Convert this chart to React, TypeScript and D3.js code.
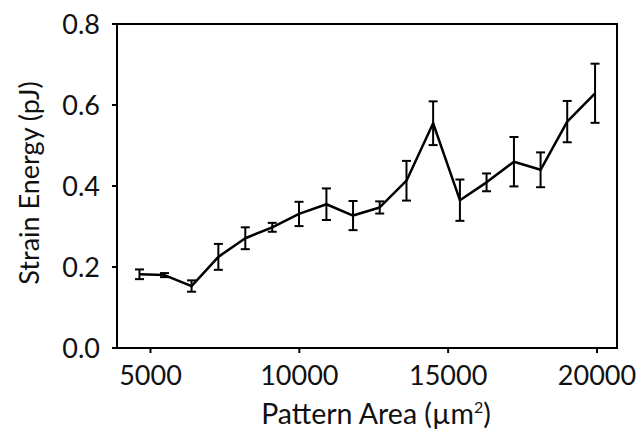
import React from "react";
import * as d3 from "d3";

const areas = [4630, 5470, 6380, 7280, 8185, 9090, 9990, 10910, 11805, 12700, 13600, 14495, 15395, 16290, 17210, 18105, 19000, 19935];
const energy = [0.182, 0.180, 0.153, 0.225, 0.271, 0.298, 0.331, 0.355, 0.327, 0.347, 0.413, 0.555, 0.365, 0.409, 0.460, 0.440, 0.559, 0.629];
const errors = [0.012, 0.005, 0.014, 0.032, 0.027, 0.011, 0.030, 0.039, 0.036, 0.015, 0.049, 0.054, 0.051, 0.022, 0.061, 0.043, 0.051, 0.073];
const xTicks = [5000, 10000, 15000, 20000];
const yTicks = [0, 0.2, 0.4, 0.6, 0.8];

const W = 640, H = 434;
const L = 117, R = 617, T = 24, B = 348;
const FONT = "Lato, 'Open Sans', sans-serif";

export default function App() {
  const x = d3.scaleLinear().domain([3875, 20672]).range([L, R]);
  const y = d3.scaleLinear().domain([0, 0.8]).range([B, T]);
  const pts = areas.map((a, i) => [a, energy[i]] as [number, number]);
  const line = d3.line<[number, number]>().x(d => x(d[0])).y(d => y(d[1]))(pts) || "";
  const cap = 4.5;
  return (
    <svg width={W} height={H} style={{ position: "absolute", left: 0, top: 0, background: "#fff" }}>
      <rect x={0} y={0} width={W} height={H} fill="#fff" />
      {xTicks.map(t => (
        <g key={"x" + t}>
          <line x1={x(t)} x2={x(t)} y1={B} y2={B + 5} stroke="#000" strokeWidth={2} />
          <text x={x(t)} y={385} textAnchor="middle" fontFamily={FONT} fontSize={27} fill="#111">{t}</text>
        </g>
      ))}
      {yTicks.map(t => (
        <g key={"y" + t}>
          <line x1={L - 5} x2={L} y1={y(t)} y2={y(t)} stroke="#000" strokeWidth={2} />
          <text x={100} y={y(t) + 10} textAnchor="end" fontFamily={FONT} fontSize={27} fill="#111">{t.toFixed(1)}</text>
        </g>
      ))}
      <path d={line} fill="none" stroke="#000" strokeWidth={2.5} strokeLinejoin="round" />
      {pts.map((p, i) => {
        const cx = x(p[0]);
        const y1 = y(p[1] + errors[i]);
        const y2 = y(p[1] - errors[i]);
        return (
          <g key={"e" + i} stroke="#000" strokeWidth={2}>
            <line x1={cx} x2={cx} y1={y1} y2={y2} />
            <line x1={cx - cap} x2={cx + cap} y1={y1} y2={y1} />
            <line x1={cx - cap} x2={cx + cap} y1={y2} y2={y2} />
          </g>
        );
      })}
      <rect x={L} y={T} width={R - L} height={B - T} fill="none" stroke="#000" strokeWidth={2} />
      <text x={376} y={424} textAnchor="middle" fontFamily={FONT} fontSize={28.5} fill="#111">
        Pattern Area (µm<tspan dy={-11} fontSize={16}>2</tspan><tspan dy={11}>)</tspan>
      </text>
      <text transform={`translate(39,183) rotate(-90)`} textAnchor="middle" fontFamily={FONT} fontSize={27} fill="#111">
        Strain Energy (pJ)
      </text>
    </svg>
  );
}
